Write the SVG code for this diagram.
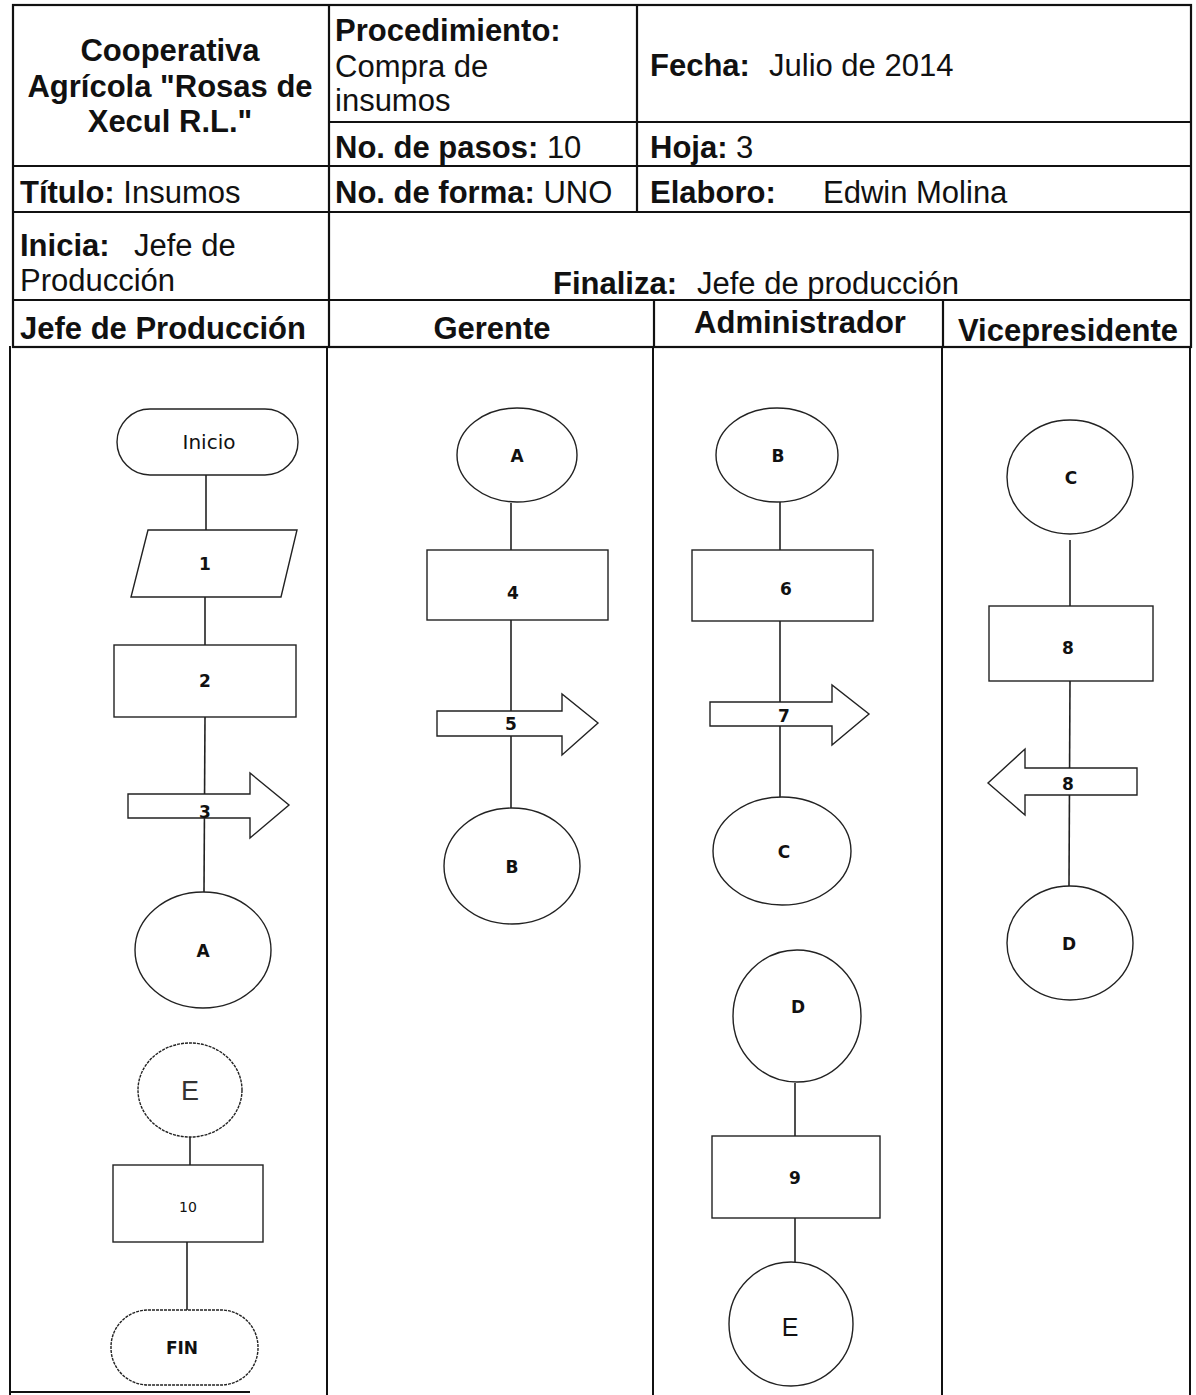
<svg xmlns="http://www.w3.org/2000/svg" width="1196" height="1395" viewBox="0 0 1196 1395">
<style>
.hdr{font-family:"Liberation Sans",Arial,sans-serif;font-size:31px;fill:#111}
.b{font-weight:bold}
.tl{stroke:#111;stroke-width:2.2;fill:none}
.ln{stroke:#111;stroke-width:2;fill:none}
.shp{stroke:#222;stroke-width:1.4;fill:#fff}
.con{stroke:#222;stroke-width:1.6;fill:none}
.lbl{font-family:"DejaVu Sans",Verdana,sans-serif;font-size:17px;font-weight:bold;fill:#111;text-anchor:middle}
.lblr{font-family:"DejaVu Sans",Verdana,sans-serif;font-size:20px;fill:#111;text-anchor:middle}
</style>
<rect width="1196" height="1395" fill="#fff"/>
<g id="header">
<rect class="tl" x="13" y="5" width="1178" height="342"/>
<line class="tl" x1="329" y1="122" x2="1191" y2="122"/>
<line class="tl" x1="13" y1="166" x2="1191" y2="166"/>
<line class="tl" x1="13" y1="212" x2="1191" y2="212"/>
<line class="tl" x1="13" y1="300" x2="1191" y2="300"/>
<line class="tl" x1="329" y1="5" x2="329" y2="347"/>
<line class="tl" x1="637" y1="5" x2="637" y2="212"/>
<line class="tl" x1="654" y1="300" x2="654" y2="347"/>
<line class="tl" x1="943" y1="300" x2="943" y2="347"/>
<text class="hdr b" x="170" y="61" text-anchor="middle">Cooperativa</text>
<text class="hdr b" x="170" y="97" text-anchor="middle">Agrícola "Rosas de</text>
<text class="hdr b" x="170" y="132" text-anchor="middle">Xecul R.L."</text>
<text class="hdr b" x="335" y="41">Procedimiento:</text>
<text class="hdr" x="335" y="77">Compra de</text>
<text class="hdr" x="335" y="111">insumos</text>
<text class="hdr" x="650" y="76"><tspan class="b">Fecha:</tspan><tspan x="769">Julio de 2014</tspan></text>
<text class="hdr" x="335" y="158"><tspan class="b">No. de pasos:</tspan> 10</text>
<text class="hdr" x="650" y="158"><tspan class="b">Hoja:</tspan> 3</text>
<text class="hdr" x="20" y="203"><tspan class="b">Título:</tspan> Insumos</text>
<text class="hdr" x="335" y="203"><tspan class="b">No. de forma:</tspan> UNO</text>
<text class="hdr" x="650" y="203"><tspan class="b">Elaboro:</tspan><tspan x="823">Edwin Molina</tspan></text>
<text class="hdr" x="20" y="256"><tspan class="b">Inicia:</tspan><tspan x="134">Jefe de</tspan></text>
<text class="hdr" x="20" y="291">Producción</text>
<text class="hdr" x="553" y="294"><tspan class="b">Finaliza:</tspan><tspan x="697">Jefe de producción</tspan></text>
<text class="hdr b" x="20" y="339">Jefe de Producción</text>
<text class="hdr b" x="492" y="339" text-anchor="middle">Gerente</text>
<text class="hdr b" x="800" y="333" text-anchor="middle">Administrador</text>
<text class="hdr b" x="1068" y="341" text-anchor="middle">Vicepresidente</text>
</g>
<g id="lanes">
<line class="ln" x1="10" y1="346" x2="10" y2="1395"/>
<line class="ln" x1="327" y1="346" x2="327" y2="1395"/>
<line class="ln" x1="653" y1="346" x2="653" y2="1395"/>
<line class="ln" x1="942" y1="346" x2="942" y2="1395"/>
<line class="ln" x1="1190" y1="346" x2="1190" y2="1395"/>
<line class="ln" x1="10" y1="1392" x2="250" y2="1392"/>
</g>
<g id="connectors">
<line class="con" x1="206" y1="475" x2="206" y2="530"/>
<line class="con" x1="205" y1="597" x2="205" y2="645"/>
<line class="con" x1="205" y1="717" x2="204" y2="892"/>
<line class="con" x1="190" y1="1137" x2="190" y2="1165"/>
<line class="con" x1="187" y1="1242" x2="187" y2="1310"/>
<line class="con" x1="511" y1="503" x2="511" y2="550"/>
<line class="con" x1="511" y1="620" x2="511" y2="808"/>
<line class="con" x1="780" y1="502" x2="780" y2="550"/>
<line class="con" x1="780" y1="621" x2="780" y2="797"/>
<line class="con" x1="795" y1="1083" x2="795" y2="1136"/>
<line class="con" x1="795" y1="1218" x2="795" y2="1263"/>
<line class="con" x1="1070" y1="540" x2="1070" y2="606"/>
<line class="con" x1="1070" y1="681" x2="1069" y2="886"/>
</g>
<g id="n-inicio"><rect class="shp" x="117" y="409" width="181" height="66" rx="33"/><text class="lblr" x="209" y="449">Inicio</text></g>
<g id="n-1"><polygon class="shp" points="148,530 297,530 281,597 131,597"/><text class="lbl" x="205" y="570">1</text></g>
<g id="n-2"><rect class="shp" x="114" y="645" width="182" height="72"/><text class="lbl" x="205" y="687">2</text></g>
<g id="n-3"><path class="shp" d="M128,794 H250 V773 L289,805 L250,838 V818 H128 Z"/><text class="lbl" x="205" y="818">3</text></g>
<g id="n-a1"><ellipse class="shp" cx="203" cy="950" rx="68" ry="58"/><text class="lbl" x="203" y="957">A</text></g>
<g id="n-e1"><ellipse class="shp" cx="190" cy="1090" rx="52" ry="47" stroke-dasharray="3 1"/><text x="190" y="1100" font-family="Liberation Sans,Arial,sans-serif" font-size="27" font-weight="300" fill="#333" text-anchor="middle">E</text></g>
<g id="n-10"><rect class="shp" x="113" y="1165" width="150" height="77"/><text x="188" y="1212" font-family="DejaVu Sans,Verdana,sans-serif" font-size="14" fill="#111" text-anchor="middle">10</text></g>
<g id="n-fin"><rect class="shp" x="111" y="1310" width="147" height="75" rx="37" stroke-dasharray="3 1"/><text class="lbl" x="182" y="1354">FIN</text></g>
<g id="n-a2"><ellipse class="shp" cx="517" cy="455" rx="60" ry="47"/><text class="lbl" x="517" y="462">A</text></g>
<g id="n-4"><rect class="shp" x="427" y="550" width="181" height="70"/><text class="lbl" x="513" y="599">4</text></g>
<g id="n-5"><path class="shp" d="M437,711 H562 V694 L598,723 L562,755 V736 H437 Z"/><text class="lbl" x="511" y="730">5</text></g>
<g id="n-b1"><ellipse class="shp" cx="512" cy="866" rx="68" ry="58"/><text class="lbl" x="512" y="873">B</text></g>
<g id="n-b2"><ellipse class="shp" cx="777" cy="455" rx="61" ry="47"/><text class="lbl" x="778" y="462">B</text></g>
<g id="n-6"><rect class="shp" x="692" y="550" width="181" height="71"/><text class="lbl" x="786" y="595">6</text></g>
<g id="n-7"><path class="shp" d="M710,702 H832 V685 L869,714 L832,745 V726 H710 Z"/><text class="lbl" x="784" y="722">7</text></g>
<g id="n-c1"><ellipse class="shp" cx="782" cy="851" rx="69" ry="54"/><text class="lbl" x="784" y="858">C</text></g>
<g id="n-d1"><ellipse class="shp" cx="797" cy="1016" rx="64" ry="66"/><text class="lbl" x="798" y="1013">D</text></g>
<g id="n-9"><rect class="shp" x="712" y="1136" width="168" height="82"/><text class="lbl" x="795" y="1184">9</text></g>
<g id="n-e2"><ellipse class="shp" cx="791" cy="1324" rx="62" ry="62"/><text x="790" y="1336" font-family="Liberation Sans,Arial,sans-serif" font-size="25" fill="#111" text-anchor="middle">E</text></g>
<g id="n-c2"><ellipse class="shp" cx="1070" cy="477" rx="63" ry="57"/><text class="lbl" x="1071" y="484">C</text></g>
<g id="n-8a"><rect class="shp" x="989" y="606" width="164" height="75"/><text class="lbl" x="1068" y="654">8</text></g>
<g id="n-8b"><path class="shp" d="M1137,768 H1025 V749 L988,783 L1025,815 V795 H1137 Z"/><text class="lbl" x="1068" y="790">8</text></g>
<g id="n-d2"><ellipse class="shp" cx="1070" cy="943" rx="63" ry="57"/><text class="lbl" x="1069" y="950">D</text></g>
</svg>
